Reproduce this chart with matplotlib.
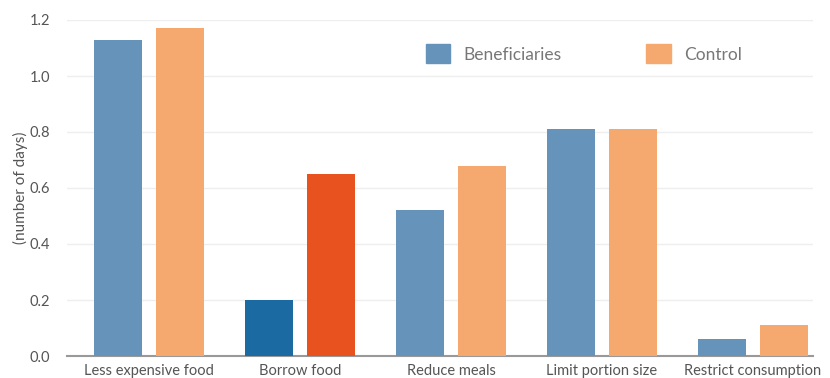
import matplotlib.pyplot as plt
import numpy as np
from matplotlib.patches import Patch

categories = ['Less expensive food', 'Borrow food', 'Reduce meals', 'Limit portion size', 'Restrict consumption']
beneficiaries = [1.13, 0.20, 0.52, 0.81, 0.06]
control = [1.17, 0.65, 0.68, 0.81, 0.11]
highlight = 'Borrow food'

plt.rcParams['font.family'] = ['Lato', 'DejaVu Sans']

blue, orange = '#6593BA', '#F6A96E'
dark_blue, red = '#1B6AA1', '#E8521F'

fig = plt.figure(figsize=(8.3, 3.78), dpi=100)
ax = fig.add_axes([67 / 830, 1 - 356 / 378, 746 / 830, 336 / 378])

x = np.arange(len(categories))
w = 0.318
off = 0.205
cb = [dark_blue if c == highlight else blue for c in categories]
cc = [red if c == highlight else orange for c in categories]
ax.bar(x - off, beneficiaries, w, color=cb, zorder=3)
ax.bar(x + off, control, w, color=cc, zorder=3)

ax.set_xlim(-0.543, 4.397)
ax.set_ylim(0, 1.2)
ax.set_yticks(np.arange(0, 1.21, 0.2))
ax.yaxis.set_major_formatter(plt.FormatStrFormatter('%.1f'))
ax.set_xticks(x)
ax.set_xticklabels(categories)
ax.grid(axis='y', color='#eeeeee', linewidth=1, zorder=0)
for s in ['top', 'right', 'left']:
    ax.spines[s].set_visible(False)
ax.spines['bottom'].set_color('#999999')
ax.spines['bottom'].set_linewidth(1.5)
ax.tick_params(axis='both', length=0, labelsize=10.5, labelcolor='#555555')
ax.tick_params(axis='x', pad=6)
ax.tick_params(axis='y', pad=12)
ax.set_ylabel('(number of days)', fontsize=11, color='#555555', labelpad=1)

handles = [Patch(color=blue, label='Beneficiaries'), Patch(color=orange, label='Control')]
ax.legend(handles=handles, loc='center left', bbox_to_anchor=(0.46, 0.899), ncol=2,
          frameon=False, fontsize=12.5, labelcolor='#777777', handlelength=1.4,
          handleheight=1.3, handletextpad=0.75, columnspacing=4.9)

plt.savefig('out.png', dpi=100)
